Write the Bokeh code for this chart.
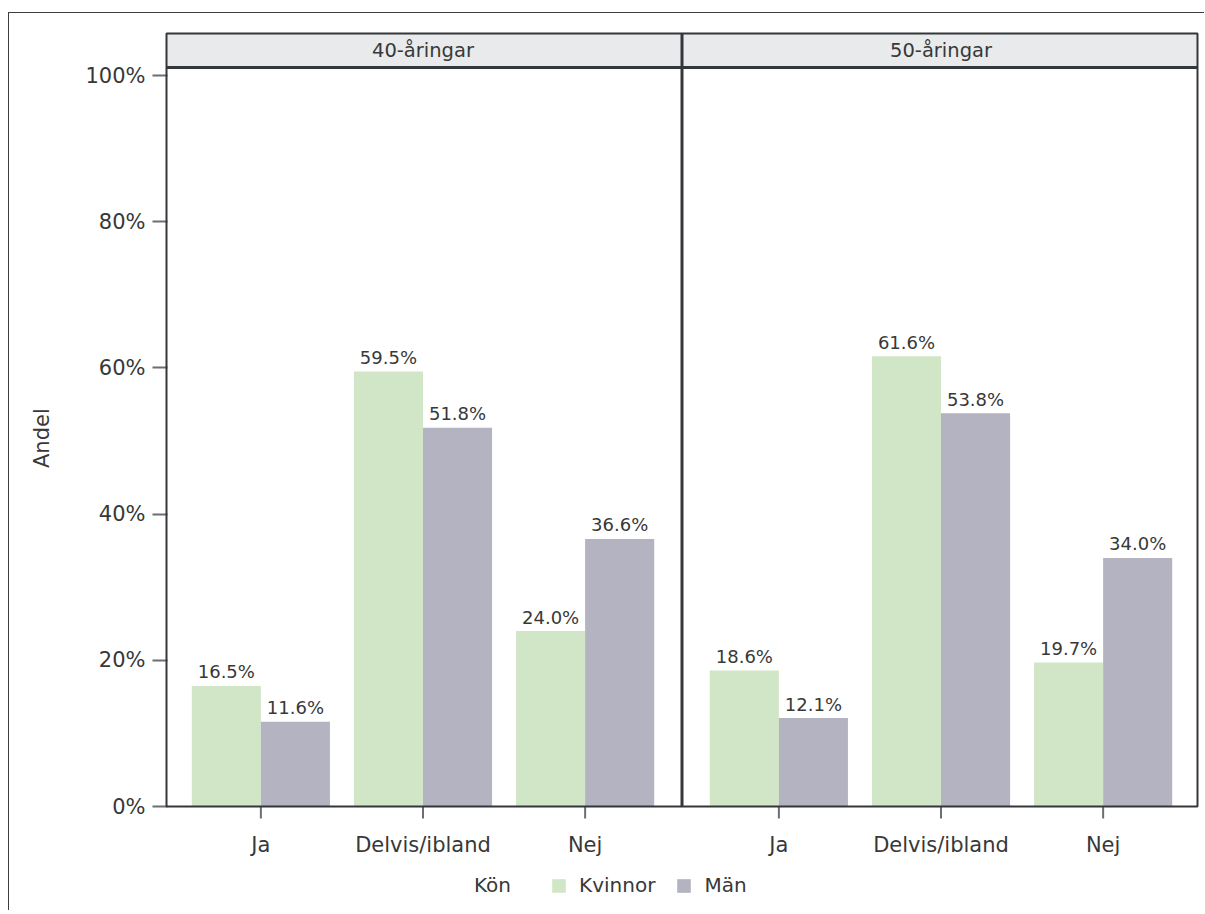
from bokeh.plotting import figure
from bokeh.models import (Range1d, FixedTicker, BoxAnnotation, Label,
                          Legend, LegendItem, ColumnDataSource)
from bokeh.core.properties import value
from bokeh.embed import file_html
from bokeh.resources import INLINE

# ---------------- data ----------------
panels = ["40-åringar", "50-åringar"]
categories = ["Ja", "Delvis/ibland", "Nej"]
kvinnor_40 = [16.5, 59.5, 24.0]
man_40 = [11.6, 51.8, 36.6]
kvinnor_50 = [18.6, 61.6, 19.7]
man_50 = [12.1, 53.8, 34.0]
series_names = ["Kvinnor", "Män"]
legend_title = "Kön"
y_label = "Andel"
y_ticks = [0, 20, 40, 60, 80, 100]
y_tick_labels = ["0%", "20%", "40%", "60%", "80%", "100%"]

# ---------------- style / layout ----------------
FONT = "DejaVu Sans"
TXT = "#383838"
DARK = "#33363b"
TICK = "#6b6e73"
colors = ["#d1e6c7", "#b3b3c1"]
PANEL_GAP = 0.195
BAR_W = 0.426
PAD = 0.082
PXY = 7.31            # pixels per percent point
Y_END = 105.75        # top of the strip header
STRIP_BOTTOM = 101.09
Y_START = -105 / PXY  # room for tick labels and legend inside the frame

panel_offset = [i * (len(categories) + PANEL_GAP) for i in range(len(panels))]
values = {"Kvinnor": [kvinnor_40, kvinnor_50], "Män": [man_40, man_50]}
XS = -0.5 - PAD
XE = panel_offset[-1] + len(categories) - 0.5 + PAD
PXX = 1031 / (XE - XS)
EX = 2 / PXX
EY = 2 / PXY

p = figure(width=1196, height=898, output_backend="svg", toolbar_location=None,
           x_range=Range1d(XS - EX, XE + EX), y_range=Range1d(Y_START, Y_END + EY),
           x_axis_location=None,
           min_border_left=155, min_border_right=6, min_border_top=18,
           min_border_bottom=0)
p.styles = {"border-left": "1px solid #3a3d42", "border-top": "1px solid #3a3d42",
            "margin-top": "12px", "margin-left": "8px"}
p.xgrid.visible = False
p.ygrid.visible = False
p.outline_line_color = None
p.background_fill_color = "white"
p.border_fill_color = "white"

# strip header background
p.add_layout(BoxAnnotation(left=XS, right=XE, bottom=STRIP_BOTTOM, top=Y_END,
                           fill_color="#e9eaec", fill_alpha=1, line_color=None,
                           level="underlay"))

# bars
renderers = []
for s, sname in enumerate(series_names):
    xs, tops, ly, labs = [], [], [], []
    for i in range(len(panels)):
        for c in range(len(categories)):
            v = values[sname][i][c]
            xs.append(panel_offset[i] + c + (s - 0.5) * BAR_W)
            tops.append(v)
            ly.append(v + 14 / PXY)
            labs.append(f"{v:.1f}%")
    src = ColumnDataSource(dict(x=xs, top=tops, ly=ly, lab=labs))
    r = p.vbar(x="x", top="top", bottom=0, width=BAR_W, source=src,
               fill_color=colors[s], line_color=None)
    p.text(x="x", y="ly", text="lab", source=src, text_align="center",
           text_baseline="alphabetic", text_font=value(FONT),
           text_font_size="18px", text_color=TXT)
    renderers.append(r)

# panel frames, strip line, divider
p.add_layout(BoxAnnotation(left=XS, right=XE, bottom=0, top=Y_END, fill_alpha=0,
                           line_color=DARK, line_alpha=1, line_width=2))
p.add_layout(BoxAnnotation(left=XS, right=XE, bottom=STRIP_BOTTOM, top=STRIP_BOTTOM,
                           fill_alpha=0, line_color=DARK, line_alpha=1, line_width=3))
div_x = (panel_offset[0] + len(categories) - 1 + panel_offset[1]) / 2
p.add_layout(BoxAnnotation(left=div_x, right=div_x, bottom=0, top=Y_END, fill_alpha=0,
                           line_color=DARK, line_alpha=1, line_width=3))
for i, name in enumerate(panels):
    p.add_layout(Label(x=panel_offset[i] + (len(categories) - 1) / 2,
                       y=(STRIP_BOTTOM + Y_END) / 2, text=name,
                       text_align="center", text_baseline="middle",
                       text_font=FONT, text_font_size="19.5px", text_color=TXT))

# x axis: tick marks below the zero line, category labels as text
tick_pos, tick_txt = [], []
for i in range(len(panels)):
    for c, cat in enumerate(categories):
        tick_pos.append(panel_offset[i] + c)
        tick_txt.append(cat)
n = len(tick_pos)
p.segment(x0=tick_pos, y0=[0] * n, x1=tick_pos, y1=[-12 / PXY] * n,
          line_color=TICK, line_width=2)
p.text(x=tick_pos, y=[-38 / PXY] * n, text=tick_txt, text_align="center",
       text_baseline="alphabetic", text_font=value(FONT), text_font_size="21px",
       text_color=TXT)

# y axis
yax = p.yaxis[0]
yax.ticker = FixedTicker(ticks=y_ticks)
yax.major_label_overrides = {t: l for t, l in zip(y_ticks, y_tick_labels)}
yax.axis_line_color = None
yax.major_tick_line_color = TICK
yax.major_tick_line_width = 2
yax.major_tick_out = 12
yax.major_tick_in = 3
yax.minor_tick_line_color = None
yax.major_label_text_font = FONT
yax.major_label_text_font_size = "21px"
yax.major_label_text_color = TXT
yax.major_label_standoff = 7
yax.axis_label = "\u00a0" * 10 + y_label
yax.axis_label_text_font = FONT
yax.axis_label_text_font_size = "21px"
yax.axis_label_text_font_style = "normal"
yax.axis_label_text_color = TXT
yax.axis_label_standoff = 28

# legend ("Kön" as a glyph-less first item)
dummy = p.vbar(x="x", top="top", width=0.1,
               source=ColumnDataSource(dict(x=[], top=[])),
               fill_alpha=0, line_alpha=0)
items = [LegendItem(label=legend_title + "   ", renderers=[dummy])]
items += [LegendItem(label=n_, renderers=[r]) for n_, r in zip(series_names, renderers)]
legend = Legend(items=items, orientation="horizontal", location=(281, 14),
                padding=0, margin=0, spacing=20, glyph_width=17, glyph_height=17,
                label_standoff=12, label_text_font=FONT, label_text_font_size="20px",
                label_text_color=TXT, border_line_color=None, background_fill_alpha=0)
p.add_layout(legend)

open("out.html", "w").write(file_html(p, INLINE))
